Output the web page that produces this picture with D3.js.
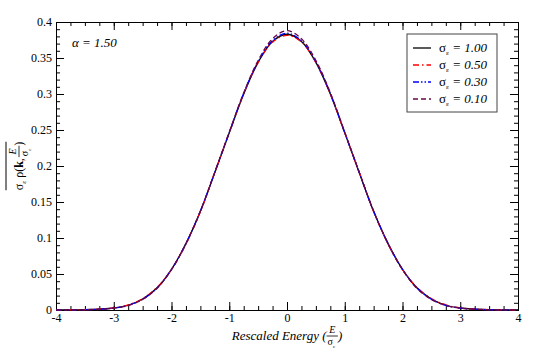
<!DOCTYPE html>
<html>
<head>
<meta charset="utf-8">
<script src="https://cdn.jsdelivr.net/npm/d3@7/dist/d3.min.js"></script>
<style>
    body { margin: 0; background: #fff; }
</style>
</head>
<body>
<svg id="chart" width="545" height="355"></svg>
<script>
// rescaled energy grid
var energy = [-4, -3.75, -3.5, -3.25, -3, -2.75, -2.5, -2.25, -2, -1.75, -1.5, -1.25, -1, -0.75, -0.5, -0.25,
    0, 0.25, 0.5, 0.75, 1, 1.25, 1.5, 1.75, 2, 2.25, 2.5, 2.75, 3, 3.25, 3.5, 3.75, 4];

// sigma_eps = 1.00
var rho100 = [0, 0.0001, 0.0004, 0.0012, 0.0028, 0.0066, 0.0152, 0.0308, 0.0565, 0.0922, 0.1370, 0.1910, 0.2460,
    0.3000, 0.3440, 0.3730, 0.3830, 0.3730, 0.3440, 0.3000, 0.2460, 0.1910, 0.1370, 0.0922, 0.0565, 0.0308,
    0.0152, 0.0066, 0.0028, 0.0012, 0.0004, 0.0001, 0];
// sigma_eps = 0.50
var rho050 = [0, 0.0001, 0.0004, 0.0013, 0.0030, 0.0070, 0.0158, 0.0314, 0.0562, 0.0916, 0.1366, 0.1912, 0.2465,
    0.3004, 0.3438, 0.3722, 0.3815, 0.3724, 0.3436, 0.3002, 0.2462, 0.1915, 0.1368, 0.0918, 0.0560, 0.0312,
    0.0160, 0.0071, 0.0030, 0.0013, 0.0004, 0.0001, 0];
// sigma_eps = 0.30
var rho030 = [0, 0.0001, 0.0004, 0.0011, 0.0027, 0.0064, 0.0149, 0.0304, 0.0563, 0.0924, 0.1374, 0.1913, 0.2462,
    0.3008, 0.3448, 0.3742, 0.3845, 0.3740, 0.3450, 0.3006, 0.2464, 0.1912, 0.1372, 0.0923, 0.0564, 0.0305,
    0.0150, 0.0064, 0.0027, 0.0011, 0.0004, 0.0001, 0];
// sigma_eps = 0.10
var rho010 = [0, 0.0001, 0.0003, 0.0010, 0.0026, 0.0062, 0.0146, 0.0302, 0.0562, 0.0920, 0.1372, 0.1916, 0.2472,
    0.3016, 0.3465, 0.3768, 0.3880, 0.3766, 0.3466, 0.3018, 0.2470, 0.1915, 0.1371, 0.0919, 0.0561, 0.0301,
    0.0145, 0.0062, 0.0026, 0.0010, 0.0003, 0.0001, 0];

var seriesNames = ["1.00", "0.50", "0.30", "0.10"];
var xTicks = [-4, -3, -2, -1, 0, 1, 2, 3, 4];
var yTicks = [0, 0.05, 0.1, 0.15, 0.2, 0.25, 0.3, 0.35, 0.4];

var series = [
    {name: seriesNames[0], values: rho100, color: "#000000", dash: null},
    {name: seriesNames[1], values: rho050, color: "#ff0000", dash: "6,3,1.5,3"},
    {name: seriesNames[2], values: rho030, color: "#0000ff", dash: "6,2,1.5,2,1.5,2"},
    {name: seriesNames[3], values: rho010, color: "#670748", dash: "5,3"}
];

var SERIF = "'Liberation Serif', serif";
var svg = d3.select("#chart").style("font-family", SERIF);
var plotL = 56, plotR = 518, plotT = 22, plotB = 310;

var x = d3.scaleLinear().domain([-4, 4]).range([plotL, plotR]);
var y = d3.scaleLinear().domain([0, 0.4]).range([plotB, plotT]);

var fmt = function (d) { return String(+d.toFixed(2)); };

//minor ticks
var xMinor = d3.range(-4, 4.001, 0.25);
var yMinor = d3.range(0, 0.4001, 0.01);

function drawAxis(axis, tx, ty) {
    var g = svg.append("g")
        .attr("transform", "translate(" + tx + "," + ty + ")")
        .call(axis);
    g.attr("font-family", null).attr("font-size", null);
    g.select(".domain").attr("stroke", "#000").attr("stroke-width", 1);
    g.selectAll(".tick line").attr("stroke", "#000");
    g.selectAll("text")
        .style("font-family", SERIF)
        .style("font-size", "12px")
        .attr("fill", "#000");
    return g;
}

// minors first
drawAxis(d3.axisBottom(x).tickValues(xMinor).tickSize(-4).tickFormat(""), 0, plotB);
drawAxis(d3.axisTop(x).tickValues(xMinor).tickSize(-4).tickFormat(""), 0, plotT);
drawAxis(d3.axisLeft(y).tickValues(yMinor).tickSize(-4).tickFormat(""), plotL, 0);
drawAxis(d3.axisRight(y).tickValues(yMinor).tickSize(-4).tickFormat(""), plotR, 0);

// majors
drawAxis(d3.axisBottom(x).tickValues(xTicks).tickSize(-8).tickPadding(3).tickFormat(fmt), 0, plotB);
drawAxis(d3.axisTop(x).tickValues(xTicks).tickSize(-8).tickFormat(""), 0, plotT);
drawAxis(d3.axisLeft(y).tickValues(yTicks).tickSize(-8).tickPadding(4).tickFormat(fmt), plotL, 0);
drawAxis(d3.axisRight(y).tickValues(yTicks).tickSize(-8).tickFormat(""), plotR, 0);

// curves
var line = d3.line()
    .x(function (d, i) { return x(energy[i]); })
    .y(function (d) { return y(d); })
    .curve(d3.curveCatmullRom);

series.forEach(function (s) {
    svg.append("path")
        .datum(s.values)
        .attr("fill", "none")
        .attr("stroke", s.color)
        .attr("stroke-width", 1.3)
        .attr("stroke-dasharray", s.dash)
        .attr("d", line);
});

// alpha label
svg.append("text")
    .attr("x", 72).attr("y", 47)
    .style("font-family", SERIF)
    .attr("font-size", 13)
    .attr("font-style", "italic")
    .text("α = 1.50");

// legend
var leg = svg.append("g");
leg.append("rect")
    .attr("x", 407).attr("y", 34)
    .attr("width", 90).attr("height", 78)
    .attr("fill", "#fff")
    .attr("stroke", "#444")
    .attr("stroke-width", 1);

series.forEach(function (s, i) {
    var ly = 48 + i * 17;
    leg.append("line")
        .attr("x1", 413).attr("x2", 431)
        .attr("y1", ly).attr("y2", ly)
        .attr("stroke", s.color)
        .attr("stroke-width", 1.3)
        .attr("stroke-dasharray", s.dash);
    var t = leg.append("text")
        .attr("x", 439).attr("y", ly + 4)
        .style("font-family", SERIF)
        .attr("font-size", 13);
    t.append("tspan").text("σ");
    t.append("tspan").attr("font-size", 7).attr("dy", 3).text("ε");
    t.append("tspan").attr("font-style", "italic").attr("dy", -3).text(" = " + s.name);
});

// sequential text pieces helper
function piece(g, str, px, py, size, opts) {
    var t = g.append("text")
        .attr("x", px).attr("y", py)
        .style("font-family", SERIF)
        .attr("font-size", size)
        .text(str);
    if (opts && opts.italic) t.attr("font-style", "italic");
    if (opts && opts.bold) t.attr("font-weight", "bold");
    return t.node().getComputedTextLength();
}

function fraction(g, cx, base) {
    // E over sigma_eps
    var tE = g.append("text").style("font-family", SERIF).attr("font-size", 10).attr("font-style", "italic").text("E");
    var wE = tE.node().getComputedTextLength();
    var tS = g.append("text").style("font-family", SERIF).attr("font-size", 10).text("σ");
    var wS = tS.node().getComputedTextLength();
    var w = Math.max(wE, wS + 4) + 2;
    tE.attr("x", cx + (w - wE) / 2).attr("y", base - 7);
    tS.attr("x", cx + (w - wS - 4) / 2).attr("y", base + 5);
    g.append("text").style("font-family", SERIF).attr("font-size", 5)
        .attr("x", cx + (w - wS - 4) / 2 + wS).attr("y", base + 8).text("ε");
    g.append("line")
        .attr("x1", cx).attr("x2", cx + w)
        .attr("y1", base - 4).attr("y2", base - 4)
        .attr("stroke", "#000").attr("stroke-width", 0.8);
    return w;
}

// x axis title
var xl = svg.append("g");
var cx = 0;
cx += piece(xl, "Rescaled Energy (", cx, 340, 13, {italic: true});
cx += fraction(xl, cx, 340);
cx += piece(xl, ")", cx, 340, 13, {italic: true});
xl.attr("transform", "translate(" + ((plotL + plotR) / 2 - cx / 2) + ",0)");

// y axis title
var yl = svg.append("g");
var c = 0;
c += piece(yl, "σ", c, 0, 12);
c += piece(yl, "ε", c, 3, 7);
c += 3;
c += piece(yl, "ρ(", c, 0, 12);
c += piece(yl, "k", c, 0, 12, {bold: true});
c += piece(yl, ",", c, 0, 12);
c += 1;
c += fraction(yl, c, 0);
c += piece(yl, ")", c, 0, 12);
yl.append("line")
    .attr("x1", 0).attr("x2", c)
    .attr("y1", -17).attr("y2", -17)
    .attr("stroke", "#000").attr("stroke-width", 1);
yl.attr("transform", "translate(23," + ((plotT + plotB) / 2 + c / 2) + ") rotate(-90)");
</script>
</body>
</html>
